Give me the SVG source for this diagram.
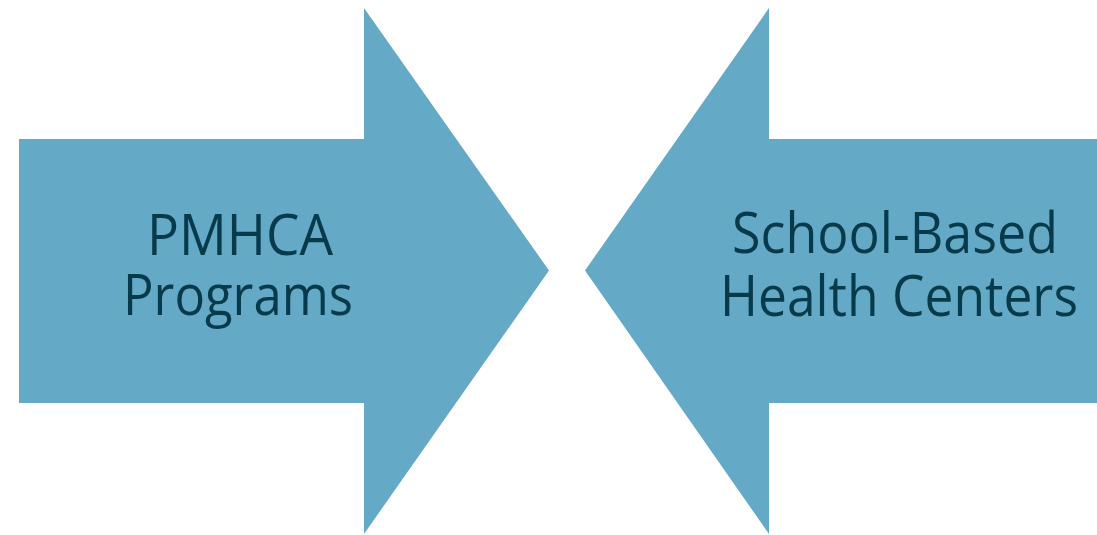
<svg xmlns="http://www.w3.org/2000/svg" width="1097" height="535" viewBox="0 0 1097 535">
<style>
.arrow{fill:#64AAC7;stroke:none}
.lbl{font-family:"Open Sans","Noto Sans","Liberation Sans",sans-serif;font-size:57px;fill:#073B4C;text-anchor:middle}
</style>
<rect width="1097" height="535" fill="#FFFFFF"/>
<g id="pmhca">
<polygon class="arrow" points="19,139 364,139 364,8 549,270.5 364,534 364,403 19,403"/>
<text class="lbl" x="240" y="255" textLength="186" lengthAdjust="spacingAndGlyphs">PMHCA</text>
<text class="lbl" x="238" y="315" textLength="230" lengthAdjust="spacingAndGlyphs">Programs</text>
</g>
<g id="sbhc">
<polygon class="arrow" points="1097,139 769,139 769,8 585,270.5 769,534 769,403 1097,403"/>
<text class="lbl" x="895" y="253" textLength="326" lengthAdjust="spacingAndGlyphs">School-Based</text>
<text class="lbl" x="899" y="316" textLength="358" lengthAdjust="spacingAndGlyphs">Health Centers</text>
</g>
<g id="connectors"></g>
</svg>
